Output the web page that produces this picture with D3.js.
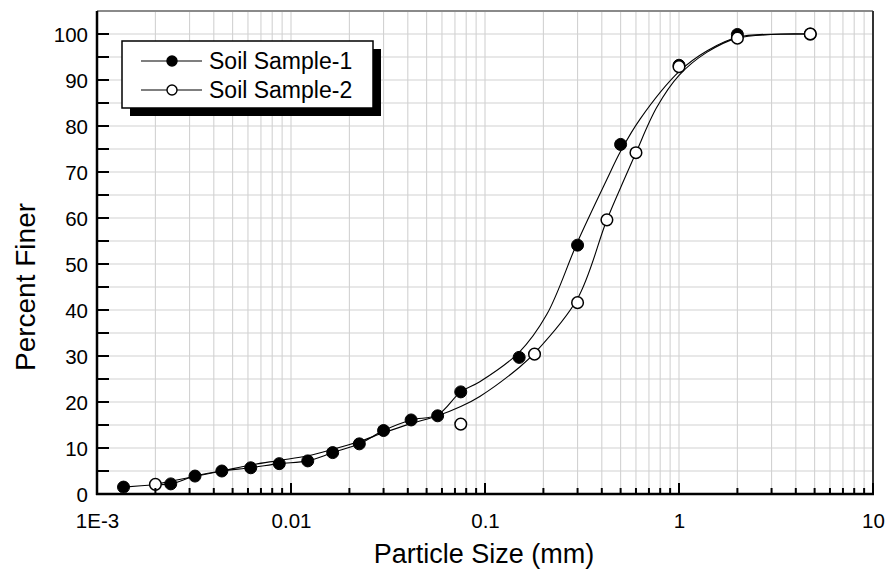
<!DOCTYPE html>
<html>
<head>
<meta charset="utf-8">
<script src="https://cdn.jsdelivr.net/npm/d3@7"></script>
<style>
  html, body { margin: 0; padding: 0; background: #fff; }
  svg { display: block; font-family: "Liberation Sans", Arial, sans-serif; }
</style>
</head>
<body>
<svg id="chart" width="885" height="571"></svg>
<script>
// Measured grain-size points (particle size in mm, percent finer)
const sizes1 = [0.00137, 0.0024, 0.0032, 0.0044, 0.0062, 0.0087, 0.0122, 0.0164, 0.0225, 0.030, 0.0416, 0.057, 0.075, 0.15, 0.30, 0.50, 1.0, 2.0, 4.75];
const finer1 = [1.5, 2.2, 3.9, 5.0, 5.7, 6.6, 7.2, 9.0, 10.9, 13.8, 16.1, 17.0, 22.2, 29.7, 54.1, 76.0, 93.2, 99.9, 100];
const sizes2 = [0.002, 0.075, 0.18, 0.30, 0.425, 0.60, 1.0, 2.0, 4.75];
const finer2 = [2.1, 15.2, 30.4, 41.6, 59.6, 74.2, 92.9, 99.1, 100];

// Smoothed gradation curves drawn through each sample
const fitSize1 = [0.00137, 0.002, 0.0024, 0.0032, 0.0044, 0.0062, 0.0087, 0.0122, 0.0164, 0.0225, 0.030, 0.0416, 0.057, 0.075, 0.094, 0.15, 0.208, 0.30, 0.424, 0.50, 0.63, 1.0, 1.39, 2.0, 4.75];
const fitFiner1 = [1.5, 2.0, 2.2, 3.9, 5.0, 5.7, 6.6, 7.2, 9.0, 10.9, 13.8, 16.1, 17.2, 22.2, 24.4, 30.8, 39.0, 54.8, 68.3, 74.5, 81.5, 91.8, 96.3, 99.3, 100];
const fitSize2 = [0.002, 0.003, 0.0044, 0.0062, 0.0087, 0.0122, 0.0164, 0.0225, 0.030, 0.0416, 0.057, 0.075, 0.094, 0.15, 0.18, 0.30, 0.424, 0.527, 0.60, 0.767, 1.0, 1.39, 2.0, 4.75];
const fitFiner2 = [2.1, 3.6, 5.0, 6.3, 7.3, 8.3, 9.7, 11.4, 13.3, 15.3, 17.0, 19.0, 21.2, 27.5, 30.6, 42.5, 59.5, 68.8, 74.2, 84.0, 91.0, 96.0, 99.1, 100];

// Axis ticks and labels
const xMajorTicks = [0.001, 0.01, 0.1, 1, 10];
const xTickLabels = ["1E-3", "0.01", "0.1", "1", "10"];
const yMajorTicks = [0, 10, 20, 30, 40, 50, 60, 70, 80, 90, 100];
const seriesNames = ["Soil Sample-1", "Soil Sample-2"];

const svg = d3.select("#chart");
const plotL = 97, plotR = 873, plotT = 11, plotB = 494;

const x = d3.scaleLog().domain([0.001, 10]).range([plotL, plotR]);
const y = d3.scaleLinear().domain([0, 105]).range([plotB, plotT]);

// minor log ticks 2..9 in each decade
const xMinor = [];
for (let d = -3; d < 1; d++) {
  for (let m = 2; m <= 9; m++) xMinor.push(m * Math.pow(10, d));
}
const yMinor = d3.range(5, 105, 5);

// grid
const grid = svg.append("g").attr("stroke", "#d2d2d2").attr("stroke-width", 1.1);
grid.selectAll("line.v").data(xMinor.concat(xMajorTicks.slice(1, -1))).join("line")
  .attr("x1", d => x(d)).attr("x2", d => x(d)).attr("y1", plotT).attr("y2", plotB);
grid.selectAll("line.h").data(yMinor).join("line")
  .attr("x1", plotL).attr("x2", plotR).attr("y1", d => y(d)).attr("y2", d => y(d));

// frame: top grey, right dark
svg.append("line").attr("x1", plotL).attr("x2", plotR).attr("y1", plotT).attr("y2", plotT)
  .attr("stroke", "#8a8a8a").attr("stroke-width", 2);
svg.append("line").attr("x1", plotR).attr("x2", plotR).attr("y1", plotT).attr("y2", plotB)
  .attr("stroke", "#333").attr("stroke-width", 2);

// curves
const line = d3.line().curve(d3.curveCatmullRom.alpha(0.5));
const pts1 = fitSize1.map((s, i) => [x(s), y(fitFiner1[i])]);
const pts2 = fitSize2.map((s, i) => [x(s), y(fitFiner2[i])]);
svg.append("path").attr("d", line(pts1)).attr("fill", "none").attr("stroke", "#000").attr("stroke-width", 1.1);
svg.append("path").attr("d", line(pts2)).attr("fill", "none").attr("stroke", "#000").attr("stroke-width", 1.1);

// markers
svg.append("g").selectAll("circle").data(sizes1.map((s, i) => [s, finer1[i]])).join("circle")
  .attr("cx", d => x(d[0])).attr("cy", d => y(d[1])).attr("r", 6)
  .attr("fill", "#000").attr("stroke", "#000").attr("stroke-width", 1);
svg.append("g").selectAll("circle").data(sizes2.map((s, i) => [s, finer2[i]])).join("circle")
  .attr("cx", d => x(d[0])).attr("cy", d => y(d[1])).attr("r", 5.8)
  .attr("fill", "#fff").attr("stroke", "#000").attr("stroke-width", 1.5);

// axes (left and bottom)
const xAxis = d3.axisBottom(x).tickValues(xMajorTicks).tickSize(0).tickPadding(0).tickFormat((d, i) => xTickLabels[i]);
const gx = svg.append("g").attr("transform", `translate(0,${plotB})`).call(xAxis);
gx.select(".domain").remove();
gx.selectAll("text").attr("font-size", 20.5).attr("font-family", "Liberation Sans, Arial, sans-serif")
  .attr("fill", "#000").attr("dy", null).attr("y", 34);

const yAxis = d3.axisLeft(y).tickValues(yMajorTicks).tickSize(0).tickPadding(0);
const gy = svg.append("g").attr("transform", `translate(${plotL},0)`).call(yAxis);
gy.select(".domain").remove();
gy.selectAll("text").attr("font-size", 20.5).attr("font-family", "Liberation Sans, Arial, sans-serif")
  .attr("fill", "#000").attr("x", -9).attr("dy", "0.36em");

// inward tick marks
const ticks = svg.append("g").attr("stroke", "#000").attr("stroke-width", 2);
ticks.selectAll("line.xmin").data(xMinor).join("line")
  .attr("x1", d => x(d)).attr("x2", d => x(d)).attr("y1", plotB).attr("y2", plotB - 6);
ticks.selectAll("line.xmaj").data(xMajorTicks).join("line")
  .attr("x1", d => x(d)).attr("x2", d => x(d)).attr("y1", plotB).attr("y2", plotB - 11);
ticks.selectAll("line.y").data(d3.range(0, 105, 5)).join("line")
  .attr("x1", plotL).attr("x2", plotL + 12).attr("y1", d => y(d)).attr("y2", d => y(d));

svg.append("line").attr("x1", plotL).attr("x2", plotL).attr("y1", plotT).attr("y2", plotB + 1)
  .attr("stroke", "#000").attr("stroke-width", 2.5);
svg.append("line").attr("x1", plotL - 1).attr("x2", plotR + 1).attr("y1", plotB).attr("y2", plotB)
  .attr("stroke", "#000").attr("stroke-width", 2.5);

// axis titles
svg.append("text").attr("x", 484).attr("y", 563).attr("text-anchor", "middle")
  .attr("font-size", 27).text("Particle Size (mm)");
svg.append("text").attr("transform", `translate(35,287) rotate(-90)`)
  .attr("text-anchor", "middle").attr("font-size", 28).text("Percent Finer");

// legend with drop shadow
const lg = svg.append("g");
lg.append("rect").attr("x", 130).attr("y", 49).attr("width", 251).attr("height", 67).attr("fill", "#000");
lg.append("rect").attr("x", 122).attr("y", 41).attr("width", 251).attr("height", 67)
  .attr("fill", "#fff").attr("stroke", "#000").attr("stroke-width", 1.5);
const entries = [{ y: 61, filled: true }, { y: 90, filled: false }];
entries.forEach((e, i) => {
  lg.append("line").attr("x1", 141).attr("x2", 202).attr("y1", e.y).attr("y2", e.y)
    .attr("stroke", "#000").attr("stroke-width", 1.1);
  lg.append("circle").attr("cx", 172).attr("cy", e.y).attr("r", 5)
    .attr("fill", e.filled ? "#000" : "#fff").attr("stroke", "#000").attr("stroke-width", 1.4);
  lg.append("text").attr("x", 209).attr("y", e.y).attr("dy", "0.36em")
    .attr("font-size", 23).text(seriesNames[i]);
});
</script>
</body>
</html>
